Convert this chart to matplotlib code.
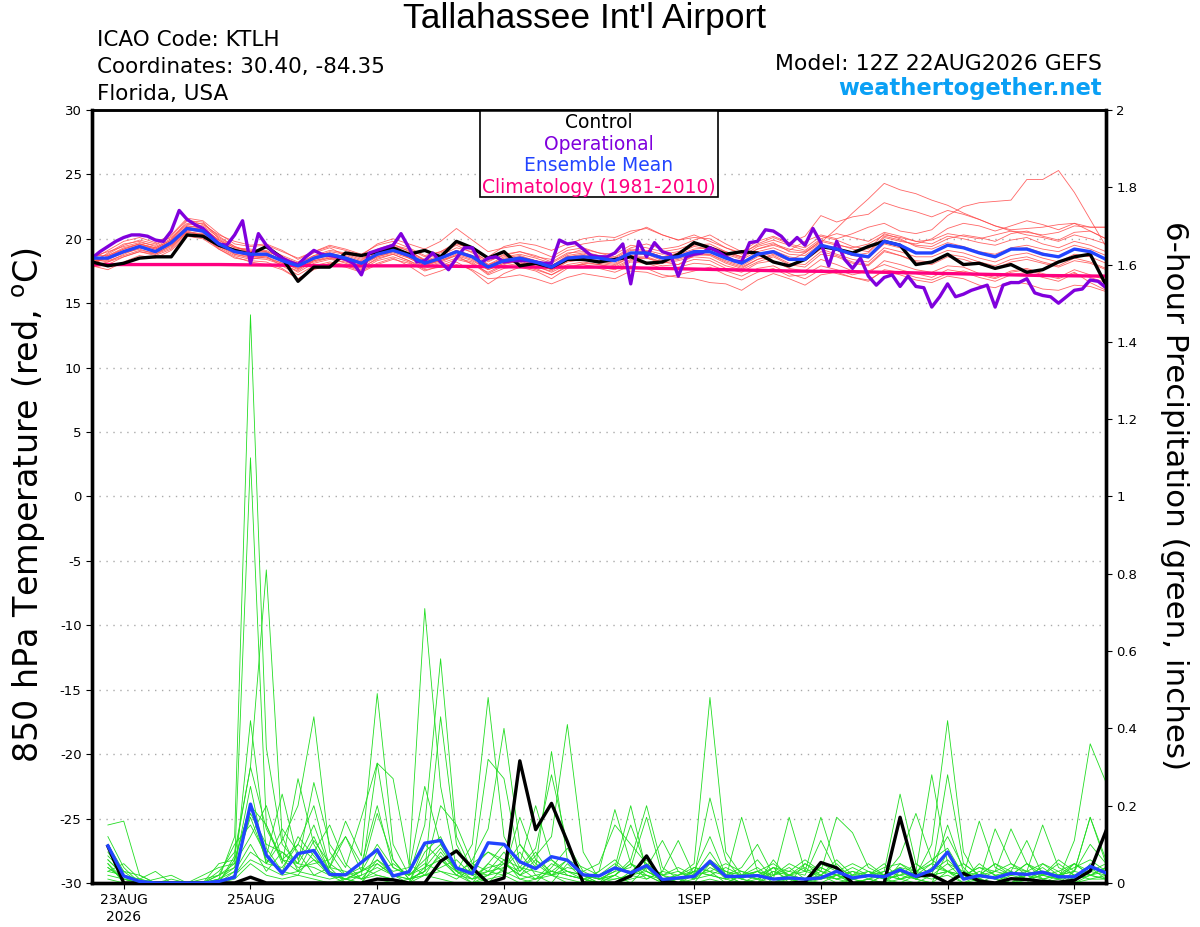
import numpy as np
import pandas as pd
import matplotlib
matplotlib.use("Agg")
import matplotlib.pyplot as plt
from matplotlib.ticker import FormatStrFormatter

plt.rcParams['font.family'] = ['DejaVu Sans']
plt.rcParams['axes.unicode_minus'] = False
plt.rcParams['mathtext.default'] = 'regular'

# ---- data (GEFS 12Z 22AUG2026, KTLH) ----
run_start = pd.Timestamp('2026-08-22 12:00')

# 850 hPa temperature, 6-hourly from hour 0
control_t = [18.2, 17.9, 18.1, 18.5, 18.6, 18.6, 20.3, 20.2, 19.5, 19.1, 18.8, 19.4, 18.5,
             16.7, 17.8, 17.8, 18.9, 18.7, 19.0, 19.3, 18.8, 19.1, 18.6, 19.8, 19.3, 18.5,
             19.0, 17.9, 18.1, 17.8, 18.4, 18.4, 18.2, 18.4, 18.6, 18.1, 18.2, 18.8, 19.7,
             19.3, 18.8, 19.0, 18.9, 18.2, 17.9, 18.4, 19.4, 19.2, 18.9, 19.4, 19.8, 19.5,
             18.0, 18.2, 18.8, 18.0, 18.1, 17.7, 18.0, 17.4, 17.6, 18.2, 18.6, 18.8, 16.4]

mean_t = [18.5, 18.5, 19.0, 19.4, 19.0, 19.7, 20.8, 20.6, 19.6, 19.0, 18.8, 18.8, 18.3,
          17.9, 18.5, 18.8, 18.5, 18.1, 18.8, 19.1, 18.7, 18.1, 18.5, 19.0, 18.6, 17.8,
          18.3, 18.5, 18.2, 17.8, 18.5, 18.6, 18.5, 18.3, 18.9, 18.9, 18.5, 18.6, 19.0,
          19.0, 18.5, 18.1, 18.8, 19.0, 18.4, 18.4, 19.5, 19.2, 18.8, 18.6, 19.8, 19.5,
          18.9, 18.9, 19.5, 19.3, 18.9, 18.6, 19.2, 19.2, 18.8, 18.6, 19.2, 19.0, 18.4]

# operational run, 3-hourly from hour 0
oper_t = [18.5, 19.0, 19.4, 19.8, 20.1, 20.3, 20.3, 20.2, 19.9, 19.8, 20.6, 22.2, 21.5, 21.1,
          20.8, 20.2, 19.6, 19.5, 20.3, 21.4, 18.1, 20.4, 19.5, 18.9, 18.5, 18.2, 18.0, 18.6,
          19.1, 18.8, 18.7, 18.6, 18.4, 18.1, 17.2, 18.9, 19.1, 19.3, 19.5, 20.4, 19.3, 18.2,
          18.3, 18.9, 18.2, 17.6, 18.5, 19.3, 19.3, 18.1, 18.5, 18.6, 18.2, 18.3, 18.3, 18.3,
          18.2, 18.1, 18.1, 19.9, 19.6, 19.7, 19.2, 18.7, 18.6, 18.6, 18.9, 19.6, 16.5, 19.8,
          18.6, 19.7, 19.0, 18.8, 17.1, 18.6, 18.8, 18.9, 19.3, 19.0, 18.6, 18.3, 18.2, 19.7,
          19.8, 20.7, 20.6, 20.2, 19.5, 20.1, 19.5, 20.8, 19.7, 17.9, 19.8, 18.4, 17.7, 18.5,
          17.1, 16.4, 17.0, 17.2, 16.3, 17.1, 16.3, 16.2, 14.7, 15.5, 16.5, 15.5, 15.7, 16.0,
          16.2, 16.4, 14.7, 16.4, 16.6, 16.6, 16.9, 15.8, 15.6, 15.5, 15.0, 15.5, 16.0, 16.1,
          16.8, 16.7, 16.2]

# climatology, daily
clim_t = [18.0, 18.0, 18.0, 17.95, 17.9, 17.9, 17.85, 17.8, 17.8, 17.7, 17.6, 17.5,
          17.45, 17.35, 17.25, 17.15, 17.1]

# ensemble members, 6-hourly from hour 0
members_t = [
    [18.3, 18.8, 19.5, 19.9, 19.6, 20.1, 21.2, 21.0, 20.1, 19.4, 19.0, 19.3, 18.7,
     18.2, 18.9, 19.3, 18.7, 18.3, 19.2, 19.6, 19.0, 18.4, 18.9, 19.5, 18.9, 18.3,
     18.7, 19.0, 18.6, 18.4, 19.1, 19.3, 18.9, 18.8, 19.5, 19.3, 19.0, 19.2, 19.6,
     19.4, 19.0, 18.6, 19.2, 19.5, 19.1, 19.8, 20.3, 20.0, 20.4, 20.9, 21.2, 20.6,
     20.4, 20.7, 21.8, 22.5, 22.8, 22.9, 23.0, 24.6, 24.6, 25.3, 23.6, 21.5, 19.4],
    [18.6, 18.4, 18.9, 19.2, 18.8, 19.5, 20.6, 20.9, 19.8, 18.8, 18.5, 18.4, 18.0,
     17.5, 18.3, 18.5, 18.1, 17.7, 18.5, 18.8, 18.3, 17.8, 18.2, 18.7, 18.0, 17.4,
     18.0, 18.3, 17.8, 17.5, 18.2, 18.4, 18.1, 17.9, 18.6, 18.5, 18.2, 18.0, 18.7,
     18.8, 18.2, 17.8, 18.4, 18.8, 18.3, 18.9, 19.7, 20.8, 22.0, 23.1, 24.3, 23.8,
     23.5, 23.0, 22.6, 22.0, 21.5, 21.0, 20.6, 20.3, 20.1, 19.8, 20.3, 20.0, 19.6],
    [18.0, 18.6, 19.2, 19.6, 19.3, 19.9, 21.4, 21.3, 20.0, 19.3, 19.2, 19.0, 18.6,
     18.1, 18.7, 19.1, 18.9, 18.5, 19.0, 19.4, 19.1, 18.3, 18.7, 19.3, 19.0, 18.0,
     18.6, 18.8, 18.5, 18.1, 18.8, 19.2, 18.9, 18.6, 19.3, 19.6, 19.2, 19.4, 19.9,
     20.3, 19.6, 19.0, 19.8, 20.2, 19.7, 20.2, 21.8, 21.3, 21.7, 21.9, 22.8, 22.4,
     22.1, 21.7, 22.2, 21.9, 21.5, 21.0, 20.7, 20.8, 20.9, 21.1, 21.2, 20.9, 20.9],
    [17.8, 18.0, 18.6, 19.0, 18.7, 19.2, 20.4, 20.1, 19.3, 18.7, 18.4, 18.6, 17.9,
     17.2, 17.9, 18.2, 18.0, 17.6, 18.3, 18.6, 18.2, 17.5, 17.9, 18.4, 18.1, 17.2,
     17.7, 17.9, 17.6, 17.2, 17.9, 18.0, 17.8, 17.6, 18.2, 18.1, 17.7, 17.8, 18.1,
     18.0, 17.5, 17.1, 17.7, 17.9, 17.3, 16.9, 17.6, 17.3, 17.0, 16.8, 17.5, 17.2,
     16.8, 16.6, 17.1, 16.9, 16.4, 16.2, 16.7, 16.5, 16.1, 16.0, 16.4, 16.3, 15.9],
    [18.4, 19.1, 19.8, 20.1, 19.7, 20.3, 21.6, 21.4, 20.4, 19.6, 19.4, 19.5, 19.0,
     18.5, 19.0, 19.5, 19.2, 18.8, 19.5, 19.8, 19.3, 18.7, 19.0, 19.6, 19.2, 18.6,
     19.4, 19.7, 19.5, 19.1, 19.6, 20.0, 20.2, 20.1, 20.6, 20.8, 20.3, 19.9, 20.3,
     19.8, 19.3, 18.9, 19.5, 19.9, 19.5, 19.1, 20.0, 20.4, 20.1, 19.8, 20.5, 20.2,
     19.8, 19.6, 20.2, 20.0, 19.7, 19.5, 19.9, 20.1, 19.6, 19.3, 19.8, 19.5, 19.0],
    [17.9, 18.2, 18.8, 19.3, 19.0, 19.5, 20.6, 20.3, 19.2, 18.6, 18.2, 18.0, 17.6,
     16.9, 17.6, 18.0, 17.8, 17.4, 18.0, 18.4, 18.1, 17.7, 18.1, 18.5, 18.2, 17.3,
     17.9, 18.1, 17.9, 17.4, 18.0, 18.2, 18.0, 17.8, 18.4, 18.5, 18.1, 18.3, 18.6,
     18.5, 17.9, 17.6, 18.2, 18.6, 18.0, 17.8, 18.8, 18.6, 18.1, 17.9, 19.0, 18.7,
     18.2, 18.0, 18.6, 18.4, 18.0, 17.7, 18.2, 18.4, 18.1, 17.8, 18.3, 18.1, 17.6],
    [18.2, 18.6, 19.1, 19.5, 19.2, 19.8, 21.0, 20.8, 19.9, 19.3, 19.1, 19.0, 18.2,
     17.6, 18.4, 18.9, 18.6, 18.0, 18.8, 19.2, 18.5, 17.9, 18.4, 19.1, 18.7, 17.9,
     18.5, 18.7, 18.3, 17.9, 18.7, 18.9, 18.6, 18.4, 19.1, 19.0, 18.6, 18.9, 19.4,
     19.2, 18.8, 18.4, 19.0, 19.3, 18.8, 18.7, 19.6, 19.1, 18.7, 18.9, 20.1, 19.8,
     19.6, 20.0, 20.8, 21.2, 21.0, 20.6, 21.0, 21.4, 21.1, 20.7, 21.2, 20.6, 20.0],
    [18.5, 18.3, 18.7, 19.1, 18.9, 19.4, 20.5, 20.4, 19.5, 19.0, 18.6, 18.5, 18.1,
     17.4, 18.1, 18.4, 18.2, 17.8, 18.4, 18.8, 18.3, 17.6, 17.8, 18.2, 17.5, 16.5,
     17.3, 17.8, 17.5, 16.9, 17.7, 18.1, 18.0, 17.7, 18.3, 18.2, 17.9, 18.0, 18.4,
     18.3, 17.7, 17.4, 18.1, 18.3, 17.7, 17.5, 18.4, 18.0, 17.5, 17.3, 18.3, 18.0,
     17.6, 17.4, 17.9, 17.8, 17.3, 17.0, 17.5, 17.7, 17.3, 17.0, 17.6, 17.2, 16.8],
    [18.1, 18.9, 19.6, 19.8, 19.4, 20.0, 21.1, 21.2, 20.2, 19.4, 18.9, 18.8, 18.4,
     17.9, 18.6, 19.0, 18.8, 18.4, 19.1, 19.5, 19.2, 18.6, 19.0, 19.7, 19.1, 18.2,
     18.8, 19.0, 18.7, 18.2, 18.9, 19.0, 18.7, 18.5, 19.2, 19.1, 18.8, 19.0, 19.5,
     19.6, 19.0, 18.6, 19.4, 19.7, 19.0, 18.9, 19.9, 19.6, 19.2, 19.0, 20.2, 19.9,
     19.5, 19.4, 20.0, 20.3, 20.1, 19.8, 20.4, 20.6, 20.2, 19.9, 20.5, 20.6, 20.0],
    [17.9, 17.6, 18.2, 18.7, 18.5, 19.1, 20.2, 20.0, 19.2, 18.5, 18.3, 18.2, 17.7,
     16.9, 17.7, 18.1, 17.9, 17.5, 18.1, 18.5, 17.9, 17.1, 17.5, 18.0, 17.6, 16.9,
     17.0, 17.2, 16.9, 16.5, 17.0, 17.3, 17.1, 16.9, 17.5, 17.4, 17.0, 17.2, 17.5,
     17.8, 17.2, 16.8, 17.4, 17.7, 17.1, 17.2, 17.9, 17.6, 17.2, 17.5, 18.0, 17.6,
     17.3, 17.0, 17.6, 17.4, 17.0, 16.7, 17.2, 17.4, 17.0, 16.7, 17.3, 17.0, 16.6],
    [18.6, 19.0, 19.4, 19.7, 19.5, 20.2, 21.5, 21.1, 20.3, 19.8, 19.5, 19.6, 19.1,
     18.4, 19.0, 19.4, 19.1, 18.7, 19.6, 20.0, 19.6, 19.2, 19.8, 20.8, 19.9, 19.0,
     19.3, 19.5, 19.1, 18.6, 19.3, 19.6, 19.8, 19.9, 20.4, 20.9, 20.3, 19.9, 20.1,
     20.0, 19.3, 18.8, 19.6, 20.1, 19.6, 19.3, 20.2, 19.9, 19.4, 19.2, 20.4, 20.0,
     19.4, 19.2, 19.7, 19.4, 19.0, 18.8, 19.3, 19.5, 19.2, 19.0, 19.5, 19.2, 18.7],
    [18.3, 18.5, 19.0, 19.3, 19.1, 19.6, 20.7, 20.5, 19.4, 18.9, 18.7, 18.6, 18.1,
     17.7, 18.3, 18.6, 18.3, 17.9, 18.6, 19.0, 18.6, 18.0, 18.3, 18.8, 18.4, 17.6,
     18.1, 18.2, 17.7, 17.2, 17.8, 18.0, 17.7, 17.4, 17.9, 17.7, 17.2, 17.0, 16.9,
     16.6, 16.5, 16.0, 16.8, 17.3, 16.9, 16.4, 17.2, 17.4, 17.0, 16.7, 17.6, 17.4,
     17.0, 16.8, 17.3, 17.5, 17.2, 16.9, 17.4, 17.6, 17.2, 16.9, 17.4, 16.6, 16.0],
    [18.7, 18.7, 19.2, 19.6, 19.3, 19.9, 20.9, 20.7, 19.7, 19.2, 19.0, 19.1, 18.5,
     18.0, 18.7, 18.9, 18.5, 18.2, 19.0, 19.3, 18.9, 18.3, 18.5, 19.0, 18.6, 17.8,
     18.2, 18.4, 18.1, 17.6, 18.3, 18.5, 18.3, 18.1, 18.7, 18.8, 18.3, 18.5, 18.9,
     18.8, 18.3, 17.9, 18.6, 18.9, 18.4, 18.3, 19.2, 18.8, 18.4, 18.2, 19.3, 19.0,
     18.6, 18.6, 19.1, 18.9, 18.5, 18.2, 18.7, 18.9, 18.5, 18.2, 18.8, 18.6, 18.1],
    [18.0, 18.7, 19.3, 19.6, 19.2, 19.8, 21.0, 20.9, 19.9, 19.1, 18.9, 18.9, 18.3,
     17.8, 18.4, 18.7, 18.4, 18.0, 18.7, 19.0, 18.6, 18.0, 18.4, 18.9, 18.5, 17.7,
     18.4, 18.6, 18.3, 17.9, 18.6, 18.8, 18.5, 18.3, 18.9, 19.0, 18.6, 18.8, 19.2,
     19.3, 18.9, 18.5, 19.2, 19.6, 19.2, 19.0, 19.8, 19.5, 19.3, 19.6, 20.3, 20.1,
     19.8, 19.9, 20.4, 20.2, 20.0, 20.3, 20.6, 20.5, 20.3, 20.5, 21.0, 20.9, 20.9],
    [18.4, 18.2, 18.6, 19.0, 18.8, 19.3, 20.5, 20.3, 19.4, 18.8, 18.6, 18.7, 18.3,
     17.7, 18.2, 18.5, 18.4, 18.1, 18.6, 18.9, 18.5, 17.9, 18.3, 18.7, 18.3, 17.6,
     18.1, 18.3, 18.0, 17.6, 18.3, 18.4, 18.2, 18.0, 18.6, 18.6, 18.2, 18.4, 18.8,
     18.7, 18.1, 17.7, 18.4, 18.7, 18.1, 18.0, 19.0, 18.7, 18.2, 18.0, 19.1, 18.7,
     18.3, 18.2, 18.8, 18.6, 18.2, 17.9, 18.4, 18.6, 18.2, 17.9, 18.5, 18.2, 17.7],
    [18.2, 18.4, 19.0, 19.4, 19.1, 19.7, 20.9, 20.6, 19.6, 19.1, 18.8, 18.9, 18.4,
     17.8, 18.5, 18.8, 18.6, 18.2, 18.9, 19.2, 18.8, 18.2, 18.6, 19.1, 18.7, 18.0,
     18.4, 18.6, 18.3, 17.9, 18.6, 18.7, 18.5, 18.3, 18.9, 19.0, 18.6, 18.7, 19.1,
     19.0, 18.5, 18.1, 18.8, 19.1, 18.6, 18.4, 19.4, 19.1, 18.7, 18.5, 19.6, 19.3,
     18.9, 18.9, 19.5, 19.3, 18.9, 18.7, 19.2, 19.3, 18.9, 18.6, 19.2, 18.9, 18.4],
]

# 6-hour precipitation (inches), 6-hourly from hour 6
control_p = [0.095, 0, 0, 0, 0, 0, 0, 0, 0, 0.015, 0, 0, 0, 0, 0, 0,
             0, 0.01, 0.008, 0, 0, 0.056, 0.083, 0.039, 0, 0.013, 0.316, 0.138, 0.206, 0.107, 0, 0,
             0, 0.018, 0.070, 0.004, 0, 0, 0, 0, 0, 0, 0, 0, 0.002, 0.053, 0.039, 0,
             0, 0, 0.170, 0.018, 0.021, 0, 0.025, 0.005, 0, 0.011, 0.009, 0.004, 0.002, 0.007, 0.031, 0.135]

mean_p = [0.096, 0.018, 0.004, 0, 0, 0, 0, 0.004, 0.015, 0.204, 0.072, 0.025, 0.076, 0.084, 0.022, 0.021,
          0.053, 0.086, 0.018, 0.029, 0.103, 0.110, 0.039, 0.024, 0.104, 0.100, 0.055, 0.037, 0.068, 0.059, 0.021, 0.018,
          0.039, 0.026, 0.045, 0.009, 0.013, 0.017, 0.056, 0.017, 0.017, 0.019, 0.010, 0.013, 0.010, 0.013, 0.030, 0.013,
          0.019, 0.016, 0.034, 0.017, 0.033, 0.080, 0.010, 0.019, 0.013, 0.025, 0.022, 0.028, 0.016, 0.016, 0.043, 0.026]

members_p = [
    [0.08, 0.02, 0, 0, 0, 0, 0, 0.01, 0.12, 1.47, 0.35, 0.10, 0.05, 0.12, 0.03, 0.01,
     0, 0.05, 0.02, 0, 0.08, 0.12, 0.03, 0, 0.02, 0.06, 0.01, 0, 0.04, 0.09, 0.02, 0,
     0, 0.03, 0.06, 0.01, 0, 0, 0.05, 0.02, 0, 0.01, 0.04, 0, 0, 0.02, 0.05, 0.01,
     0, 0, 0.03, 0.01, 0, 0.08, 0.02, 0, 0, 0.03, 0.01, 0, 0.02, 0.04, 0.06, 0.03],
    [0.05, 0, 0, 0, 0, 0, 0.01, 0.02, 0.05, 1.10, 0.15, 0.06, 0.10, 0.20, 0.04, 0,
     0.02, 0.31, 0.06, 0.01, 0.03, 0.43, 0.10, 0.02, 0, 0.04, 0.08, 0.02, 0, 0.05, 0.01, 0,
     0.02, 0, 0.04, 0, 0.01, 0.03, 0.12, 0.02, 0, 0, 0.06, 0.01, 0, 0.04, 0.02, 0,
     0.01, 0, 0.05, 0.02, 0.10, 0.42, 0.08, 0.01, 0, 0.02, 0.05, 0.01, 0, 0.03, 0.10, 0.05],
    [0.15, 0.16, 0.02, 0, 0, 0, 0, 0, 0.07, 0.30, 0.81, 0.12, 0.03, 0.06, 0.02, 0,
     0, 0.08, 0.01, 0, 0.10, 0.06, 0.02, 0, 0.05, 0.10, 0.03, 0.08, 0.02, 0, 0, 0.03,
     0.19, 0.05, 0.02, 0, 0, 0.04, 0.03, 0, 0.02, 0.06, 0.01, 0, 0.05, 0.02, 0, 0.01,
     0.03, 0.01, 0, 0.02, 0.05, 0.12, 0.04, 0, 0.02, 0.01, 0, 0.05, 0.03, 0, 0.02, 0.01],
    [0.10, 0.03, 0, 0, 0.01, 0, 0, 0, 0.02, 0.42, 0.09, 0.03, 0.02, 0.08, 0.15, 0.05,
     0.01, 0.06, 0.03, 0.04, 0.71, 0.25, 0.04, 0.01, 0.03, 0.08, 0.02, 0.01, 0.03, 0.06, 0.02, 0,
     0.04, 0.20, 0.03, 0.01, 0, 0.02, 0.05, 0.03, 0.01, 0, 0.03, 0.02, 0.01, 0.05, 0.03, 0,
     0, 0.02, 0.04, 0.01, 0, 0.03, 0.01, 0.05, 0.02, 0, 0.03, 0.02, 0.01, 0.11, 0.36, 0.26],
    [0.06, 0.02, 0.01, 0.03, 0, 0, 0, 0.01, 0.04, 0.25, 0.05, 0.11, 0.20, 0.43, 0.08, 0.02,
     0.04, 0.02, 0.01, 0, 0.04, 0.09, 0.03, 0.10, 0.48, 0.12, 0.04, 0.01, 0.05, 0.03, 0.01, 0.02,
     0.05, 0.02, 0.01, 0.03, 0.11, 0.02, 0.22, 0.06, 0.01, 0, 0.02, 0.04, 0.01, 0, 0.02, 0.03,
     0.01, 0.03, 0.23, 0.05, 0.02, 0.05, 0.01, 0.03, 0.01, 0, 0.02, 0.04, 0.01, 0.05, 0.03, 0.02],
    [0.04, 0.01, 0, 0, 0, 0, 0, 0.02, 0.10, 0.15, 0.07, 0.23, 0.06, 0.15, 0.04, 0.16,
     0.07, 0.49, 0.10, 0.02, 0.05, 0.03, 0.01, 0.04, 0.08, 0.05, 0.03, 0.07, 0.12, 0.41, 0.08, 0.01,
     0.03, 0.04, 0.17, 0.02, 0, 0.03, 0.05, 0.01, 0.17, 0.03, 0, 0.02, 0.04, 0.01, 0.02, 0.01,
     0, 0.02, 0.01, 0.03, 0.06, 0.03, 0, 0.02, 0.05, 0.03, 0.01, 0.02, 0.05, 0.02, 0.04, 0.01],
    [0.03, 0.05, 0.01, 0, 0, 0, 0, 0, 0.06, 0.20, 0.15, 0.05, 0.27, 0.10, 0.03, 0.01,
     0.03, 0.10, 0.04, 0.02, 0.15, 0.58, 0.12, 0.03, 0.02, 0.05, 0.02, 0.06, 0.03, 0.02, 0.01, 0,
     0.02, 0.05, 0.03, 0.01, 0.02, 0.05, 0.48, 0.08, 0.02, 0.01, 0.03, 0.01, 0, 0.02, 0.01, 0.03,
     0.02, 0.05, 0.01, 0.02, 0.03, 0.06, 0.02, 0.01, 0.03, 0.05, 0.02, 0.01, 0.02, 0, 0.05, 0.02],
    [0.12, 0.04, 0, 0, 0, 0, 0, 0.01, 0.03, 0.18, 0.10, 0.08, 0.04, 0.05, 0.06, 0.12,
     0.03, 0.18, 0.06, 0.01, 0.03, 0.07, 0.02, 0.06, 0.14, 0.40, 0.10, 0.04, 0.34, 0.06, 0.02, 0.01,
     0.02, 0.06, 0.20, 0.04, 0.01, 0.02, 0.08, 0.02, 0.04, 0.10, 0.02, 0.03, 0.06, 0.03, 0.01, 0.02,
     0.05, 0.02, 0.07, 0.18, 0.06, 0.09, 0.02, 0.16, 0.04, 0.02, 0.05, 0.03, 0.02, 0.05, 0.02, 0.04],
    [0.05, 0.01, 0.01, 0, 0, 0, 0, 0.03, 0.08, 0.30, 0.14, 0.06, 0.05, 0.26, 0.10, 0.04,
     0.17, 0.31, 0.27, 0.05, 0.02, 0.08, 0.03, 0.01, 0.05, 0.03, 0.17, 0.06, 0.02, 0.04, 0.03, 0.01,
     0.01, 0.02, 0.05, 0.02, 0.03, 0.01, 0.04, 0.02, 0.01, 0.03, 0.02, 0.05, 0.03, 0.17, 0.04, 0.02,
     0.03, 0.01, 0.02, 0.05, 0.02, 0.03, 0.05, 0.02, 0.01, 0.04, 0.03, 0.05, 0.02, 0.03, 0.02, 0.01],
    [0.09, 0.02, 0, 0, 0, 0, 0, 0.05, 0.06, 0.20, 0.05, 0.14, 0.08, 0.02, 0.04, 0.12,
     0.05, 0.20, 0.04, 0.02, 0.06, 0.10, 0.04, 0.03, 0.32, 0.27, 0.05, 0.20, 0.06, 0.02, 0.01, 0.03,
     0.06, 0.02, 0.04, 0.11, 0.03, 0.01, 0.06, 0.03, 0.02, 0.04, 0.01, 0.17, 0.03, 0.02, 0.06, 0.02,
     0.02, 0.04, 0.05, 0.03, 0.28, 0.05, 0.03, 0.01, 0.14, 0.05, 0.03, 0.15, 0.04, 0.02, 0.03, 0.05],
    [0.07, 0.03, 0.02, 0, 0, 0, 0.02, 0.04, 0.05, 0.12, 0.20, 0.06, 0.03, 0.11, 0.05, 0.02,
     0.03, 0.06, 0.02, 0.03, 0.25, 0.10, 0.03, 0.05, 0.08, 0.06, 0.04, 0.09, 0.28, 0.10, 0.03, 0.05,
     0.15, 0.10, 0.05, 0.02, 0.04, 0.02, 0.03, 0.05, 0.03, 0.01, 0.04, 0.02, 0.05, 0.03, 0.17, 0.13,
     0.04, 0.02, 0.03, 0.01, 0.04, 0.03, 0.02, 0.04, 0.03, 0.14, 0.05, 0.02, 0.06, 0.03, 0.17, 0.05],
    [0.02, 0.01, 0, 0, 0, 0, 0, 0.02, 0.04, 0.17, 0.06, 0.03, 0.12, 0.07, 0.02, 0.01,
     0.02, 0.04, 0.02, 0.01, 0.03, 0.20, 0.15, 0.05, 0.03, 0.02, 0.04, 0.03, 0.02, 0.06, 0.04, 0.02,
     0.04, 0.03, 0.02, 0.01, 0.02, 0.03, 0.02, 0.01, 0.02, 0.03, 0.01, 0.02, 0.03, 0.04, 0.02, 0.01,
     0.02, 0.03, 0.02, 0.01, 0.03, 0.28, 0.05, 0.02, 0.03, 0.02, 0.01, 0.03, 0.02, 0.01, 0.02, 0.03],
    [0.06, 0.02, 0, 0.01, 0.02, 0, 0, 0, 0.02, 0.08, 0.05, 0.04, 0.10, 0.06, 0.04, 0.03,
     0.01, 0.03, 0.05, 0.02, 0.04, 0.06, 0.03, 0.02, 0.04, 0.05, 0.02, 0.04, 0.06, 0.03, 0.02, 0.01,
     0.02, 0.05, 0.01, 0.03, 0.02, 0.04, 0.03, 0.02, 0.03, 0.02, 0.04, 0.03, 0.02, 0.11, 0.03, 0.05,
     0.03, 0.02, 0.04, 0.03, 0.05, 0.03, 0.02, 0.04, 0.02, 0.03, 0.11, 0.02, 0.03, 0.05, 0.02, 0.04],
    [0.04, 0.01, 0, 0, 0, 0, 0, 0, 0.03, 0.10, 0.03, 0.08, 0.05, 0.04, 0.02, 0.01,
     0.03, 0.05, 0.02, 0.01, 0.02, 0.04, 0.06, 0.02, 0.03, 0.04, 0.10, 0.05, 0.02, 0.03, 0.02, 0.01,
     0.03, 0.15, 0.04, 0.02, 0.01, 0.03, 0.02, 0.04, 0.02, 0.03, 0.05, 0.02, 0.01, 0.03, 0.02, 0.04,
     0.02, 0.01, 0.02, 0.03, 0.02, 0.15, 0.03, 0.02, 0.05, 0.02, 0.03, 0.01, 0.02, 0.03, 0.17, 0.06],
    [0.03, 0.02, 0, 0, 0, 0, 0, 0, 0.02, 0.06, 0.04, 0.02, 0.03, 0.02, 0.01, 0.02,
     0.01, 0.02, 0.01, 0, 0.02, 0.03, 0.02, 0.01, 0.02, 0.03, 0.01, 0.02, 0.03, 0.02, 0.01, 0,
     0.01, 0.02, 0.03, 0.01, 0, 0.01, 0.02, 0.01, 0, 0.02, 0.01, 0.02, 0.01, 0.02, 0.01, 0,
     0.01, 0.02, 0.01, 0, 0.02, 0.03, 0.01, 0.02, 0.01, 0, 0.01, 0.02, 0.01, 0.02, 0.01, 0.02],
    [0.01, 0, 0, 0, 0, 0, 0, 0, 0.01, 0.05, 0.02, 0.01, 0.02, 0.01, 0, 0.01,
     0, 0.01, 0, 0.01, 0.02, 0.01, 0, 0, 0.01, 0.02, 0, 0.01, 0.02, 0.01, 0, 0,
     0, 0.01, 0.02, 0, 0.01, 0, 0.01, 0, 0.02, 0.01, 0, 0.01, 0, 0.01, 0.02, 0,
     0.01, 0, 0.01, 0.02, 0.01, 0.02, 0, 0.01, 0, 0.01, 0.02, 0, 0.01, 0, 0.01, 0.01],
]

tick_dates = ['2026-08-23', '2026-08-25', '2026-08-27', '2026-08-29',
              '2026-09-01', '2026-09-03', '2026-09-05', '2026-09-07']
tick_labels = ['23AUG\n2026', '25AUG', '27AUG', '29AUG', '1SEP', '3SEP', '5SEP', '7SEP']

legend_items = [('Control', 'black'), ('Operational', '#8000dd'),
                ('Ensemble Mean', '#2244ff'), ('Climatology (1981-2010)', '#ff0080')]


def times(vals, step_h, first_h=0):
    return run_start + pd.to_timedelta(first_h + step_h * np.arange(len(vals)), unit='h')


fig = plt.figure(figsize=(12, 9.27), dpi=100)
ax = fig.add_axes([0.0767, 0.0475, 0.845, 0.8339])
ax2 = ax.twinx()

# temperature
for m in members_t:
    ax.plot(times(m, 6), m, color='#ff4a4a', lw=0.6, alpha=0.85, zorder=2)
ax.plot(times(clim_t, 24), clim_t, color='#ff0080', lw=2.4, zorder=4)
ax.plot(times(control_t, 6), control_t, color='black', lw=2.4, zorder=5)
ax.plot(times(oper_t, 3), oper_t, color='#8000dd', lw=2.4, zorder=6)
ax.plot(times(mean_t, 6), mean_t, color='#2244ff', lw=2.4, zorder=7)

# precipitation
for m in members_p:
    ax2.plot(times(m, 6, 6), m, color='#22dd22', lw=0.6, zorder=2)
ax2.plot(times(control_p, 6, 6), control_p, color='black', lw=2.4, zorder=5)
ax2.plot(times(mean_p, 6, 6), mean_p, color='#2244ff', lw=2.4, zorder=6)

ax.set_xlim(run_start, run_start + pd.Timedelta(hours=384))
ax.set_ylim(-30, 30)
ax.set_yticks(np.arange(-30, 31, 5))
ax2.set_ylim(0, 2)
ax2.set_yticks(np.arange(0, 2.01, 0.2))
ax2.yaxis.set_major_formatter(FormatStrFormatter('%g'))
ax.set_xticks(pd.to_datetime(tick_dates))
ax.set_xticklabels(tick_labels)

ax.yaxis.grid(True, linestyle=(0, (1, 4)), color='#aaaaaa', lw=1)
ax.tick_params(axis='y', labelsize=9.5, length=4, direction='out')
ax.tick_params(axis='x', labelsize=10, length=4, direction='out')
ax2.tick_params(axis='y', labelsize=9.5, length=4, direction='out')
for a in (ax, ax2):
    for side in ('left', 'right', 'bottom'):
        a.spines[side].set_linewidth(2.4)
    a.spines['top'].set_linewidth(1.8)

# legend box
lx0, lx1, ly0 = 0.3826, 0.6174, 0.8875
ax.add_patch(plt.Rectangle((lx0, ly0), lx1 - lx0, 1 - ly0, transform=ax.transAxes,
                           facecolor='white', edgecolor='black', lw=1.2, zorder=8))
for i, (txt, col) in enumerate(legend_items):
    ax.text(0.5, 0.9835 - i * 0.0278, txt, color=col, fontsize=13.5, ha='center', va='center',
            transform=ax.transAxes, zorder=9)

# headers
fig.text(0.4875, 0.980, "Tallahassee Int'l Airport", fontsize=25.5, family='Liberation Sans',
         ha='center', va='center')
fig.text(0.081, 0.957, 'ICAO Code: KTLH', fontsize=15.5, ha='left', va='center')
fig.text(0.081, 0.928, 'Coordinates: 30.40, -84.35', fontsize=15.5, ha='left', va='center')
fig.text(0.081, 0.899, 'Florida, USA', fontsize=15.5, ha='left', va='center')
fig.text(0.918, 0.931, 'Model: 12Z 22AUG2026 GEFS', fontsize=15.8, ha='right', va='center')
fig.text(0.918, 0.904, 'weathertogether.net', fontsize=16.3, fontweight='bold', color='#0aa0f5',
         ha='right', va='center')
fig.text(0.024, 0.455, '850 hPa Temperature (red, $^{o}$C)', fontsize=24, rotation=90,
         ha='center', va='center')
fig.text(0.979, 0.465, '6-hour Precipitation (green, inches)', fontsize=22.3, rotation=-90,
         ha='center', va='center')

fig.savefig('out.png', dpi=100)
